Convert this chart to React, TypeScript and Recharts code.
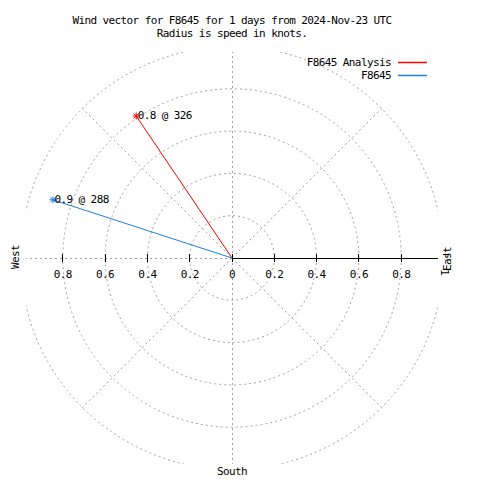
import React from 'react';
import { ScatterChart, Scatter, XAxis, YAxis, ReferenceArea, ReferenceLine, ReferenceDot } from 'recharts';

// wind vectors, one per series
const SERIES_NAMES = ['F8645 Analysis', 'F8645'];
const SERIES_COLORS = ['#ff0000', '#1e7fe0'];
const SPEEDS = [0.81, 0.89];      // knots
const DIRECTIONS = [326, 288];    // degrees, clockwise from north

const RINGS = [0.2, 0.4, 0.6, 0.8, 1.0];
const SPOKES = [0, 45, 90, 135, 180, 225, 270, 315];
const TICKS = [-0.8, -0.6, -0.4, -0.2, 0, 0.2, 0.4, 0.6, 0.8];

const LIM = 0.974;
const FONT = '"DejaVu Sans Mono", monospace';
const GRID = '#a0a0a0';

const toXY = (speed: number, dir: number) => {
    const a = (dir * Math.PI) / 180;
    return { x: speed * Math.sin(a), y: speed * Math.cos(a) };
};

const vectors = SERIES_NAMES.map((name, i) => ({
    name,
    color: SERIES_COLORS[i],
    data: [
        { x: 0, y: 0, tip: false, label: '' },
        { ...toXY(SPEEDS[i], DIRECTIONS[i]), tip: true, label: `${SPEEDS[i].toFixed(1)} @ ${DIRECTIONS[i]}` },
    ],
}));

const Ring = (props: any) => {
    const { x, y, width, height, clipPath } = props;
    return (
        <ellipse
            cx={x + width / 2}
            cy={y + height / 2}
            rx={width / 2}
            ry={height / 2}
            fill="none"
            stroke={GRID}
            strokeDasharray="2 3"
            clipPath={clipPath}
        />
    );
};

const tickShape = (value: number) => (props: any) => {
    const { cx, cy } = props;
    return (
        <g>
            <line x1={cx} x2={cx} y1={cy - 4} y2={cy + 4} stroke="#000" shapeRendering="crispEdges" />
            <text x={cx} y={cy + 20} textAnchor="middle" fontFamily={FONT} fontSize={11} letterSpacing={-0.6} fill="#000">
                {String(Math.abs(value))}
            </text>
        </g>
    );
};

const tipShape = (color: string) => (props: any) => {
    const { cx, cy, payload } = props;
    if (!payload || !payload.tip) return <g />;
    const s = 3.5;
    const d = 2.5;
    return (
        <g stroke={color} strokeWidth={1}>
            <line x1={cx - s} x2={cx + s} y1={cy} y2={cy} />
            <line x1={cx} x2={cx} y1={cy - s} y2={cy + s} />
            <line x1={cx - d} x2={cx + d} y1={cy - d} y2={cy + d} />
            <line x1={cx - d} x2={cx + d} y1={cy + d} y2={cy - d} />
            <text x={cx + 1.5} y={cy + 3.5} stroke="none" fill="#000" fontFamily={FONT} fontSize={11} letterSpacing={-0.6}>
                {payload.label}
            </text>
        </g>
    );
};

const textStyle = { fontFamily: FONT, fontSize: 11, letterSpacing: -0.6, fill: '#000' } as const;

const App: React.FC = () => {
    return (
        <div style={{ position: 'absolute', left: 0, top: 0, width: 480, height: 480, background: '#fff' }}>
            <ScatterChart width={480} height={480} margin={{ top: 52, right: 42, bottom: 16, left: 26 }}>
                <XAxis type="number" dataKey="x" domain={[-LIM, LIM]} allowDataOverflow hide />
                <YAxis type="number" dataKey="y" domain={[-LIM, LIM]} allowDataOverflow hide />
                {RINGS.map(r => (
                    <ReferenceArea key={`ring-${r}`} x1={-r} x2={r} y1={-r} y2={r} ifOverflow="hidden" fill="none" shape={Ring} />
                ))}
                {SPOKES.map(a => {
                    const p = toXY(1, a);
                    return (
                        <ReferenceLine
                            key={`spoke-${a}`}
                            segment={[{ x: 0, y: 0 }, { x: p.x, y: p.y }]}
                            ifOverflow="hidden"
                            stroke={GRID}
                            strokeDasharray="2 3"
                            shapeRendering={a % 90 === 0 ? 'crispEdges' : undefined}
                        />
                    );
                })}
                <ReferenceLine
                    segment={[{ x: 0, y: 0 }, { x: 1, y: 0 }]}
                    ifOverflow="hidden"
                    stroke="#000"
                    strokeWidth={1}
                    shapeRendering="crispEdges"
                />
                {TICKS.map(t => (
                    <ReferenceDot key={`tick-${t}`} x={t} y={0} r={0} shape={tickShape(t)} />
                ))}
                {vectors.map(v => (
                    <Scatter
                        key={v.name}
                        name={v.name}
                        data={v.data}
                        fill={v.color}
                        line={{ stroke: v.color, strokeWidth: 1 }}
                        shape={tipShape(v.color)}
                        isAnimationActive={false}
                    />
                ))}
            </ScatterChart>

            <svg width={480} height={480} style={{ position: 'absolute', left: 0, top: 0, pointerEvents: 'none' }}>
                <text x={232} y={24} textAnchor="middle" style={textStyle}>
                    Wind vector for F8645 for 1 days from 2024-Nov-23 UTC
                </text>
                <text x={232} y={37} textAnchor="middle" style={textStyle}>
                    Radius is speed in knots.
                </text>
                <text transform="translate(19,257) rotate(-90)" textAnchor="middle" style={textStyle}>West</text>
                <text transform="translate(451,259) rotate(-90)" textAnchor="middle" style={textStyle}>East</text>
                <text transform="translate(441,272) rotate(90)" textAnchor="middle" style={textStyle}>1</text>
                <line x1={443} x2={449} y1={254.5} y2={254.5} stroke="#000" />
                <text x={232} y={475} textAnchor="middle" style={textStyle}>South</text>
            </svg>

            <div style={{ position: 'absolute', left: 0, top: 56, width: 427, fontFamily: FONT, fontSize: 11, letterSpacing: -0.6 }}>
                {vectors.map(v => (
                    <div key={v.name} style={{ display: 'flex', justifyContent: 'flex-end', alignItems: 'flex-start', height: 13, lineHeight: '13px' }}>
                        <span>{v.name}</span>
                        <svg width={36} height={13}>
                            <line x1={7} x2={36} y1={6.5} y2={6.5} stroke={v.color} strokeWidth={1.5} />
                        </svg>
                    </div>
                ))}
            </div>
        </div>
    );
};

export default App;
